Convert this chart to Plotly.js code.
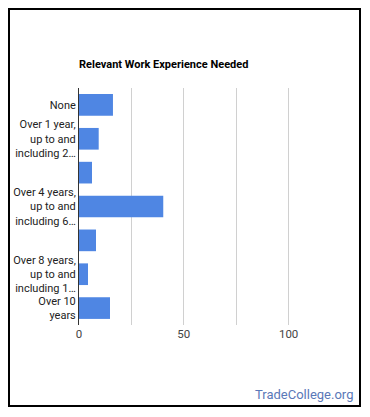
<!DOCTYPE html>
<html>
<head>
<meta charset="utf-8">
<script src="https://cdn.plot.ly/plotly-3.0.1.min.js"></script>
<style>
html,body{margin:0;padding:0;background:#fff;}
#wrap{position:relative;width:370px;height:417px;}
#chart{position:absolute;left:0;top:0;width:370px;height:417px;}
#frame{position:absolute;left:8px;top:8px;width:349px;height:395px;border:2px solid #000;pointer-events:none;}
</style>
</head>
<body>
<div id="wrap"><div id="chart"></div><div id="frame"></div></div>
<script>
const categories = [
  "None",
  "Over 1 year, up to and including 2 years",
  "Over 2 years, up to and including 4 years",
  "Over 4 years, up to and including 6 years",
  "Over 6 years, up to and including 8 years",
  "Over 8 years, up to and including 10 years",
  "Over 10 years"
];
const tickLabels = [
  "None",
  "Over 1 year,<br>up to and<br>including 2…",
  "",
  "Over 4 years,<br>up to and<br>including 6…",
  "",
  "Over 8 years,<br>up to and<br>including 1…",
  "Over 10<br>years"
];
const values = [16.2, 9.4, 6.2, 40.2, 8.1, 4.3, 14.8];
const xTickVals = [0, 25, 50, 75, 100];
const xTickText = ["0", "", "50", "", "100"];

const trace = {
  type: "bar",
  orientation: "h",
  y: categories,
  x: values,
  marker: {color: "#4f86e3"},
  hoverinfo: "x+y"
};

const layout = {
  width: 370, height: 417,
  margin: {l: 79, r: 29, t: 88, b: 92},
  paper_bgcolor: "#fff", plot_bgcolor: "#fff",
  font: {family: "Roboto, Arial, sans-serif", size: 11, color: "#222"},
  title: {
    text: "<b>Relevant Work Experience Needed</b>",
    x: 0, xanchor: "left", xref: "paper",
    y: 1 - 64/417, yanchor: "middle",
    font: {family: "Roboto, Arial, sans-serif", size: 11, color: "#000"}
  },
  bargap: 0.36,
  showlegend: false,
  xaxis: {
    range: [0, 125],
    tickvals: xTickVals, ticktext: xTickText,
    showgrid: true, gridcolor: "#d0d0d0", gridwidth: 1,
    zeroline: false, showline: false,
    ticks: "", ticklen: 0,
    tickfont: {size: 11.5, color: "#444"},
    fixedrange: true
  },
  yaxis: {
    type: "category",
    categoryorder: "array", categoryarray: categories,
    autorange: "reversed",
    tickvals: categories, ticktext: tickLabels,
    showgrid: false, zeroline: false,
    showline: true, linecolor: "#333", linewidth: 1,
    ticks: "", ticklen: 0,
    tickfont: {size: 11, color: "#222"},
    fixedrange: true
  },
  annotations: [{
    text: "TradeCollege.org",
    xref: "paper", yref: "paper",
    x: (355-79)/(370-79-29), xanchor: "right",
    y: -(394-325)/(417-88-92), yanchor: "middle",
    showarrow: false,
    font: {family: "Roboto, Arial, sans-serif", size: 13, color: "#5a78b8"}
  }]
};

Plotly.newPlot("chart", [trace], layout, {displayModeBar: false, staticPlot: true});
</script>
</body>
</html>
